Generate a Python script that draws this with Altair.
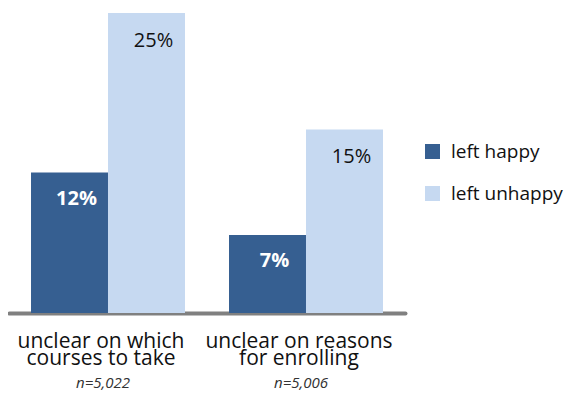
import altair as alt
import pandas as pd

categories = ["unclear on which\ncourses to take", "unclear on reasons\nfor enrolling"]
series = ["left happy", "left unhappy"]
happy = [11.7, 6.5]
unhappy = [25.0, 15.3]
happy_labels = ["12%", "7%"]
unhappy_labels = ["25%", "15%"]
n_labels = ["n=5,022", "n=5,006"]

rows = []
for i, c in enumerate(categories):
    rows.append({"category": c, "series": series[0], "value": happy[i], "label": happy_labels[i], "n": n_labels[i]})
    rows.append({"category": c, "series": series[1], "value": unhappy[i], "label": unhappy_labels[i], "n": n_labels[i]})
df = pd.DataFrame(rows)

DARK = "#365f91"
LIGHT = "#c6d9f1"
FONT = "Open Sans"

x_enc = alt.X(
    "category:N",
    sort=categories,
    scale=alt.Scale(paddingInner=0, paddingOuter=0),
    axis=alt.Axis(
        title=None,
        ticks=False,
        domainColor="#808080",
        domainWidth=4,
        domainCap="round",
        labelAngle=0,
        labelFont=FONT,
        labelFontSize=21,
        labelColor="#111111",
        labelPadding=34,
        labelBaseline="alphabetic",
        labelLineHeight=17,
        labelOffset=-7,
        labelLimit=400,
        labelExpr="split(datum.label, '\\n')",
    ),
)
xoff = alt.XOffset("series:N", sort=series, scale=alt.Scale(paddingInner=0, paddingOuter=0.286))
y_enc = alt.Y("value:Q", scale=alt.Scale(domain=[0, 25], nice=False, zero=True), axis=None)

base = alt.Chart(df)

bars = base.mark_bar(size=77).encode(
    x=x_enc,
    xOffset=xoff,
    y=y_enc,
    color=alt.Color(
        "series:N",
        scale=alt.Scale(domain=series, range=[DARK, LIGHT]),
        legend=alt.Legend(
            title=None,
            orient="none",
            legendX=414,
            legendY=129,
            symbolType="square",
            symbolSize=225,
            symbolStrokeWidth=0,
            labelFont=FONT,
            labelFontSize=19,
            labelColor="#111111",
            labelOffset=9,
            labelLimit=300,
            rowPadding=22,
            padding=0,
        ),
    ),
)

txt_happy = base.transform_filter(alt.datum.series == series[0]).mark_text(
    font=FONT, fontSize=20, fontWeight="bold", color="white", dx=7, dy=26, baseline="middle"
).encode(x=alt.X("category:N", sort=categories), xOffset=xoff, y=y_enc, text="label:N")

txt_unhappy = base.transform_filter(alt.datum.series == series[1]).mark_text(
    font=FONT, fontSize=20, color="#111111", dx=7, dy=28, baseline="middle"
).encode(x=alt.X("category:N", sort=categories), xOffset=xoff, y=y_enc, text="label:N")

n_text = base.transform_filter(alt.datum.series == series[0]).mark_text(
    font=FONT, fontSize=15, fontStyle="italic", color="#333333", dx=-5, baseline="alphabetic"
).encode(x=alt.X("category:N", sort=categories), y=alt.value(375), text="n:N")

chart = (
    alt.layer(bars, txt_happy, txt_unhappy, n_text)
    .properties(
        width=396,
        height=300,
        autosize=alt.AutoSizeParams(type="none"),
        padding={"left": 1, "top": 5, "right": 160, "bottom": 80},
    )
    .configure_view(stroke=None)
)

chart.save("out.html", embed_options={"renderer": "svg", "actions": False})
